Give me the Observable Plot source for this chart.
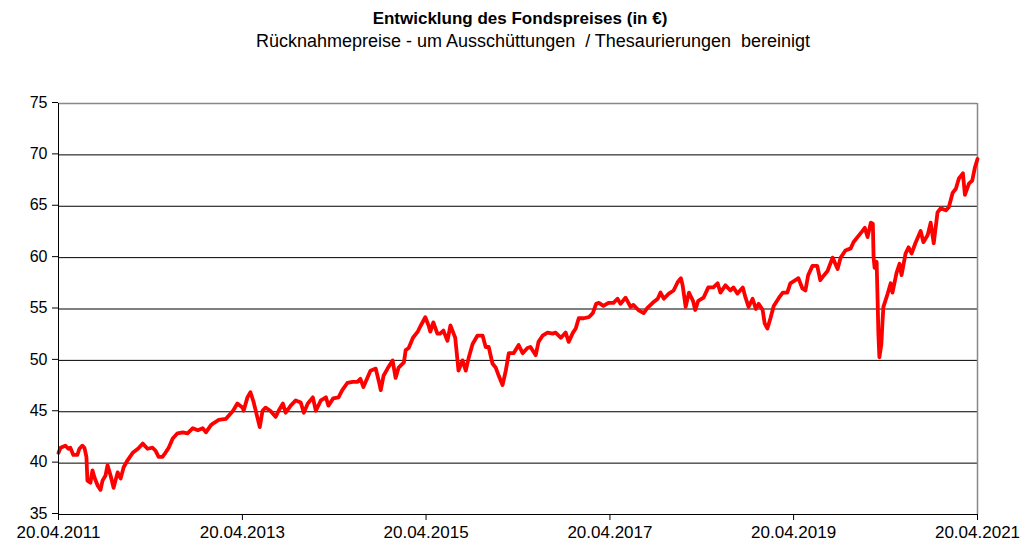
<!DOCTYPE html>
<html>
<head>
<meta charset="utf-8">
<script src="https://cdn.jsdelivr.net/npm/d3@7"></script>
<script src="https://cdn.jsdelivr.net/npm/@observablehq/plot@0.6"></script>
<style>
  html, body { margin: 0; padding: 0; background: #fff; }
  #wrap { position: relative; width: 1024px; height: 544px; font-family: "Liberation Sans", Arial, sans-serif; }
  #title { position: absolute; left: 0; width: 1040px; top: 9px; text-align: center; font-weight: bold; font-size: 17px; color: #000; }
  #subtitle { position: absolute; left: 0; width: 1066px; top: 31px; text-align: center; font-size: 18px; color: #000; white-space: pre; }
  #chart { position: absolute; left: 0; top: 0; }
</style>
</head>
<body>
<div id="wrap">
  <div id="chart"></div>
  <div id="title">Entwicklung des Fondspreises (in €)</div>
  <div id="subtitle">Rücknahmepreise - um Ausschüttungen  / Thesaurierungen  bereinigt</div>
</div>
<script>
const dates = [
"2011-04-20","2011-04-28","2011-05-17","2011-05-29","2011-06-06","2011-06-18","2011-07-04","2011-07-12","2011-07-24","2011-08-01",
"2011-08-09","2011-08-13","2011-08-25","2011-09-02","2011-09-10","2011-09-23","2011-10-04","2011-10-12","2011-10-24","2011-11-01",
"2011-11-13","2011-11-25","2011-12-11","2011-12-23","2012-01-04","2012-01-20","2012-02-09","2012-03-01","2012-03-20","2012-04-08",
"2012-04-28","2012-05-10","2012-05-22","2012-06-06","2012-06-18","2012-07-01","2012-07-17","2012-08-05","2012-08-26","2012-09-14",
"2012-10-05","2012-10-25","2012-11-13","2012-11-26","2012-12-16","2012-12-27","2013-01-16","2013-02-13","2013-03-14","2013-03-31",
"2013-04-21","2013-04-25","2013-05-10","2013-05-22","2013-06-03","2013-06-19","2013-06-28","2013-07-09","2013-07-21","2013-08-09",
"2013-08-30","2013-09-11","2013-09-28","2013-10-09","2013-10-29","2013-11-18","2013-12-08","2013-12-20","2014-01-05","2014-01-25",
"2014-02-06","2014-02-26","2014-03-18","2014-03-28","2014-04-16","2014-05-07","2014-05-22","2014-06-11","2014-07-02","2014-07-21",
"2014-08-02","2014-08-14","2014-08-30","2014-09-11","2014-10-02","2014-10-14","2014-10-22","2014-11-02","2014-11-18","2014-12-08",
"2014-12-20","2015-01-01","2015-01-22","2015-01-29","2015-02-10","2015-02-27","2015-03-18","2015-03-28","2015-04-17","2015-04-30",
"2015-05-07","2015-05-19","2015-06-04","2015-06-15","2015-06-28","2015-07-14","2015-07-26","2015-08-06","2015-08-14","2015-08-27",
"2015-09-12","2015-09-25","2015-10-06","2015-10-22","2015-11-10","2015-12-01","2015-12-13","2015-12-25","2016-01-09","2016-01-22",
"2016-02-03","2016-02-18","2016-03-02","2016-03-14","2016-04-02","2016-04-22","2016-05-08","2016-05-27","2016-06-08","2016-06-29",
"2016-07-10","2016-07-26","2016-08-15","2016-09-04","2016-09-16","2016-10-07","2016-10-26","2016-11-07","2016-11-24","2016-12-05",
"2016-12-17","2017-01-06","2017-01-26","2017-02-11","2017-02-24","2017-03-07","2017-03-25","2017-04-14","2017-05-04","2017-05-20",
"2017-06-01","2017-06-21","2017-07-11","2017-07-22","2017-08-11","2017-09-01","2017-09-16","2017-10-07","2017-10-27","2017-11-07",
"2017-11-20","2017-12-10","2017-12-29","2018-01-14","2018-01-27","2018-02-03","2018-02-15","2018-02-28","2018-03-16","2018-03-25",
"2018-04-06","2018-04-27","2018-05-16","2018-06-05","2018-06-22","2018-07-03","2018-07-23","2018-08-12","2018-08-24","2018-09-09",
"2018-09-30","2018-10-11","2018-10-23","2018-11-08","2018-11-21","2018-12-02","2018-12-18","2018-12-26","2019-01-06","2019-01-18",
"2019-01-31","2019-02-21","2019-03-08","2019-03-26","2019-04-07","2019-04-27","2019-05-09","2019-05-25","2019-06-06","2019-06-17",
"2019-07-04","2019-07-23","2019-08-04","2019-08-16","2019-09-02","2019-09-22","2019-10-12","2019-10-24","2019-11-12","2019-12-03",
"2019-12-14","2019-12-30","2020-01-19","2020-01-28","2020-02-08","2020-02-21","2020-02-29","2020-03-03","2020-03-07","2020-03-15",
"2020-03-19","2020-03-22","2020-03-26","2020-04-03","2020-04-07","2020-04-11","2020-04-28","2020-05-10","2020-05-17","2020-06-02",
"2020-06-14","2020-06-22","2020-07-08","2020-07-20","2020-08-01","2020-08-16","2020-09-06","2020-09-17","2020-10-04","2020-10-16",
"2020-10-28","2020-11-12","2020-11-25","2020-12-15","2020-12-27","2021-01-11","2021-01-24","2021-02-05","2021-02-21","2021-03-01",
"2021-03-17","2021-03-30","2021-04-10","2021-04-20"
];
const prices = [
41.0,41.5,41.7,41.4,41.5,40.8,40.8,41.4,41.7,41.5,
40.6,38.3,38.1,39.3,38.6,37.8,37.4,38.3,38.8,39.8,
38.8,37.6,39.1,38.5,39.6,40.3,41.0,41.4,41.9,41.4,
41.5,41.2,40.6,40.6,41.0,41.5,42.4,42.9,43.0,42.9,
43.4,43.2,43.4,43.0,43.7,43.9,44.2,44.3,45.1,45.8,
45.4,45.1,46.4,46.9,46.0,44.4,43.5,45.1,45.4,45.1,
44.5,45.1,45.8,44.9,45.6,46.1,45.9,44.9,45.8,46.4,
45.1,46.1,46.4,45.6,46.3,46.4,47.1,47.8,47.9,47.9,
48.2,47.4,48.3,49.0,49.2,48.0,47.1,48.5,49.2,50.0,
48.3,49.3,49.8,51.0,51.2,52.2,52.8,53.3,54.2,53.4,
52.8,53.7,52.6,52.6,52.9,51.9,53.4,52.7,52.2,49.0,
50.0,49.0,50.2,51.6,52.4,52.4,51.3,51.3,49.7,49.3,
48.5,47.6,49.0,50.7,50.7,51.5,50.7,51.2,51.3,50.5,
51.8,52.4,52.7,52.6,52.7,52.2,52.7,51.8,52.7,53.1,
54.1,54.1,54.2,54.6,55.5,55.6,55.3,55.6,55.6,56.0,
55.5,56.1,55.2,55.4,54.9,54.6,55.1,55.6,56.0,56.6,
56.0,56.5,56.8,57.6,58.0,57.3,55.2,56.6,55.8,54.9,
55.8,56.1,57.1,57.1,57.5,56.6,57.3,56.8,57.1,56.5,
57.1,56.1,55.2,56.0,55.0,55.5,54.9,53.6,53.1,54.1,
55.3,56.1,56.6,56.6,57.5,57.8,58.0,57.0,56.8,58.3,
59.2,59.2,57.8,58.2,58.7,60.0,58.9,60.0,60.7,60.9,
61.5,62.0,62.6,62.9,62.0,63.4,63.3,60.0,59.0,59.6,
55.8,52.6,50.3,51.6,53.6,55.2,56.5,57.5,56.6,58.5,
59.4,58.3,60.4,61.0,60.4,61.4,62.6,61.5,62.2,63.4,
61.4,64.4,64.8,64.6,64.9,66.3,66.7,67.7,68.2,66.1,
67.2,67.5,68.8,69.6
];
const yTicks = [35, 40, 45, 50, 55, 60, 65, 70, 75];
const xTickLabels = ["20.04.2011","20.04.2013","20.04.2015","20.04.2017","20.04.2019","20.04.2021"];

const parse = d3.utcParse("%Y-%m-%d");
const parseTick = d3.utcParse("%d.%m.%Y");
const data = dates.map((d, i) => ({date: parse(d), price: prices[i]}));
const xTicks = xTickLabels.map(parseTick);
const x0 = xTicks[0], x1 = xTicks[xTicks.length - 1];

const chart = Plot.plot({
  width: 1024,
  height: 544,
  marginLeft: 58,
  marginRight: 47,
  marginTop: 103,
  marginBottom: 30,
  style: {fontFamily: "'Liberation Sans', Arial, sans-serif", background: "#fff", color: "#000"},
  x: {type: "utc", domain: [x0, x1]},
  y: {domain: [35, 75]},
  marks: [
    Plot.ruleY(yTicks.filter(v => v > 35 && v < 75), {stroke: "#000", strokeWidth: 1}),
    Plot.ruleY([75], {stroke: "#888", strokeWidth: 1.5}),
    Plot.ruleX([x1], {stroke: "#888", strokeWidth: 1.5}),
    Plot.line(data, {x: "date", y: "price", stroke: "#ff0000", strokeWidth: 3.8, strokeLinejoin: "round", strokeLinecap: "round"}),
    Plot.ruleX([x0], {stroke: "#000", strokeWidth: 1}),
    Plot.ruleY([35], {stroke: "#000", strokeWidth: 1}),
    Plot.axisY({ticks: yTicks, tickSize: 6, tickPadding: 5, label: null, fontSize: 16, dy: -1, stroke: "#000"}),
    Plot.axisX({ticks: xTicks, tickSize: 6, tickPadding: 5, label: null, fontSize: 17, tickFormat: d3.utcFormat("%d.%m.%Y"), stroke: "#000"})
  ]
});
document.getElementById("chart").appendChild(chart);
</script>
</body>
</html>
